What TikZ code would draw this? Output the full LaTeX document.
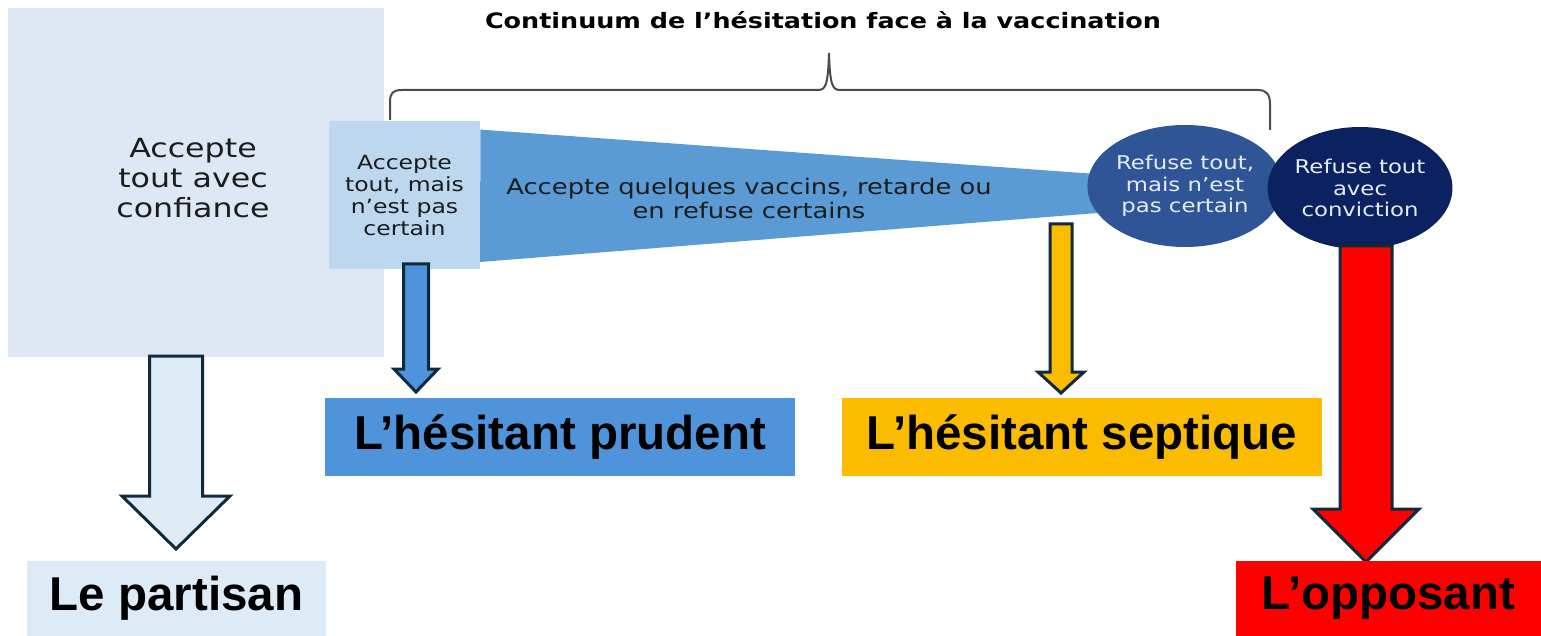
\documentclass[tikz,border=0pt]{standalone}
\usepackage{fontspec}
\setmainfont[FakeStretch=1.2]{DejaVu Sans}
\newfontfamily\labfont{Liberation Sans}
\usetikzlibrary{shapes.geometric}
\definecolor{bigbox}{HTML}{DEE8F4}
\definecolor{smallbox}{HTML}{BDD7EE}
\definecolor{wedge}{HTML}{5B9BD5}
\definecolor{circA}{HTML}{2F5597}
\definecolor{circB}{HTML}{0C2160}
\definecolor{outl}{HTML}{0E2A3C}
\definecolor{partfill}{HTML}{DDEBF7}
\definecolor{prudfill}{HTML}{4F94DA}
\definecolor{septfill}{HTML}{FBBC00}
\definecolor{txt}{HTML}{1C1C1C}
\definecolor{circtxt}{HTML}{E6ECF6}
\tikzset{
  box/.style={rectangle, inner sep=0pt, align=center, text=txt},
  oval/.style={ellipse, inner sep=0pt, align=center, text=circtxt,
    minimum width=88pt, minimum height=61pt,
    font=\fontsize{9.5}{10.8}\selectfont},
  tag/.style={rectangle, inner sep=0pt, text=black,
    font=\labfont\bfseries\fontsize{23.75}{26}\selectfont},
  arrowline/.style={draw=outl, line width=1.5pt, line join=miter},
}
\newcommand\fatarrow[7]{%
  \draw[arrowline, fill=#7] (#1-#3,#2) -- (#1+#3,#2) -- (#1+#3,#4) -- (#1+#5,#4)
    -- (#1,#6) -- (#1-#5,#4) -- (#1-#3,#4) -- cycle;}
\begin{document}
\begin{tikzpicture}[x=0.5pt,y=-0.5pt]
\useasboundingbox (0,0) rectangle (1541,636);
% boxes
\node[box, fill=bigbox, minimum width=188pt, minimum height=174.5pt] (big) at (196,182.5) {};
\node[box, font=\fontsize{13.2}{15}\selectfont] (bigtext) at (193,178)
  {Accepte\\tout avec\\confiance};
\node[box, fill=smallbox, minimum width=75.5pt, minimum height=74pt,
  font=\fontsize{9.8}{11}\selectfont] (small) at (404.5,195)
  {Accepte\\tout, mais\\n’est pas\\certain};
% wedge
\fill[wedge] (small.north east) ++(0,9) coordinate (w1) -- (1110,175) -- (1110,212)
  -- (480,262) -- cycle;
\node[box, font=\fontsize{10.75}{12}\selectfont] (wtext) at (749,198)
  {Accepte quelques vaccins, retarde ou\\en refuse certains};
% circles
\node[oval, fill=circA] (c1) at (1185,186) {Refuse tout,\\mais n’est\\pas certain};
\node[oval, fill=circB] (c2) at (1360,188) {Refuse tout\\avec\\conviction};
% brace
\draw[draw=black!70, line width=1pt]
  (390,120) -- (390,102) .. controls (390,93) and (393,90) .. (402,90)
  -- (818,90) .. controls (826,90) and (828,84) .. (829,53)
  .. controls (830,84) and (832,90) .. (840,90)
  -- (1258,90) .. controls (1266,90) and (1270,94) .. (1270,104) -- (1270,130);
\node[font=\bfseries\fontsize{10.6}{12}\selectfont, text=black] (title) at (823,20)
  {Continuum de l’hésitation face à la vaccination};
% arrows
\fatarrow{176}{356}{26.5}{496}{54}{549}{partfill}
\fatarrow{416}{264}{12.5}{369}{22}{392}{prudfill}
\fatarrow{1061}{224}{11}{372}{23}{393}{septfill}
\fatarrow{1366}{246}{26}{509}{53}{562}{red}
% labels
\node[tag, fill=partfill, minimum width=149.5pt, minimum height=37.5pt] (partisan)
  at (176.5,598.5) {Le partisan};
\node[tag, fill=prudfill, minimum width=235pt, minimum height=39pt] (prudent)
  at (560,437) {L’hésitant prudent};
\node[tag, fill=septfill, minimum width=240pt, minimum height=39pt] (septique)
  at (1082,437) {L’hésitant septique};
\node[tag, fill=red, minimum width=152.5pt, minimum height=37.5pt] (opposant)
  at (1388.5,598.5) {L’opposant};
\end{tikzpicture}
\end{document}
